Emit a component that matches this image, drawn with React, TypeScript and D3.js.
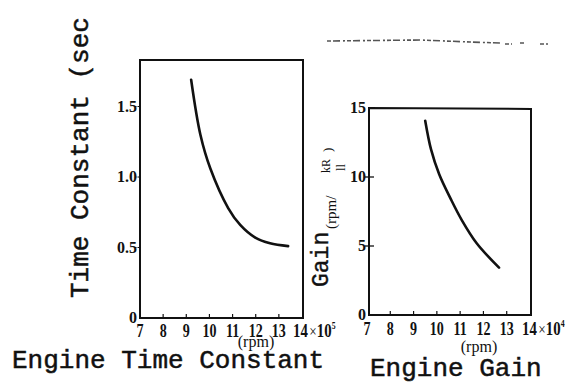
import React from 'react';
import * as d3 from 'd3';

// shared rpm axis ticks
const rpmTicks = [7, 8, 9, 10, 11, 12, 13, 14];

// Engine time constant (sec) vs rpm (x10^5)
const tcRpm = [9.21, 9.61, 10.04, 10.81, 11.33, 11.98, 12.62, 13.4];
const tcSec = [1.69, 1.3, 1.06, 0.78, 0.66, 0.57, 0.53, 0.51];
const tcTicks = [0, 0.5, 1.0, 1.5];
const tcTickLabels = ['0', '0.5', '1.0', '1.5'];

// Engine gain vs rpm (x10^4)
const gainRpm = [9.5, 9.75, 10.1, 10.6, 11.07, 11.71, 12.67];
const gainVal = [14.08, 12.0, 10.2, 8.4, 6.88, 5.2, 3.43];
const gainTicks = [0, 5, 10, 15];

const ink = '#111';
const mono = '"Liberation Mono", "DejaVu Sans Mono", monospace';
const serif = '"Liberation Serif", "DejaVu Serif", serif';

const App = () => {
    // left panel scales
    const xL = d3.scaleLinear().domain([7, 14]).range([140, 302]);
    const yL = d3.scaleLinear().domain([0, 1.83]).range([318, 60]);
    // right panel scales
    const xR = d3.scaleLinear().domain([7, 14]).range([367, 530]);
    const yR = d3.scaleLinear().domain([0, 15]).range([315, 108]);

    const tcLine = d3.line<number>()
        .x((_, i) => xL(tcRpm[i]))
        .y(d => yL(d))
        .curve(d3.curveCatmullRom.alpha(0.5));
    const gainLine = d3.line<number>()
        .x((_, i) => xR(gainRpm[i]))
        .y(d => yR(d))
        .curve(d3.curveCatmullRom.alpha(0.5));

    const tickText = (x: number, y: number, label: string, key: string) => (
        <text key={key} transform={`translate(${x},${y}) scale(0.74,1)`} textAnchor="middle"
            fontFamily={serif} fontWeight="bold" fontSize={19} fill={ink}>{label}</text>
    );

    return (
        <svg width={575} height={385} style={{ position: 'absolute', left: 0, top: 0, background: '#fff' }}>
            {/* scan noise strip at the top */}
            <path d="M327,41 L420,40 L470,42 L500,43 M505,44 L512,44 M520,43 L526,43 M540,44 L548,44"
                stroke="#555" strokeWidth={1.6} strokeDasharray="4,2,7,3,2,2" fill="none" />

            {/* ---------- left panel: time constant ---------- */}
            <path d={`M${xL(14) + 1},${yL(0)} L${xL(14) + 1},${yL.range()[1]} L${xL(7)},${yL.range()[1]} L${xL(7)},${yL(0)} Z`}
                fill="none" stroke={ink} strokeWidth={2} />
            {rpmTicks.slice(1, -1).map(t => (
                <line key={'lt' + t} x1={xL(t)} x2={xL(t)} y1={yL(0)} y2={yL(0) - 4} stroke={ink} strokeWidth={1.2} />
            ))}
            {tcTicks.slice(1).map(t => (
                <line key={'ly' + t} x1={xL(7) - 5} x2={xL(7)} y1={yL(t)} y2={yL(t)} stroke={ink} strokeWidth={1} strokeDasharray="1.5,1" />
            ))}
            {rpmTicks.slice(0, -1).map(t => tickText(xL(t), 337, String(t), 'lx' + t))}
            <text x={xL(14) - 9} y={337} fontFamily={serif} fontWeight="bold" fontSize={19} fill={ink}
                transform={`translate(${(xL(14) - 9) * 0.22},0) scale(0.78,1)`}>
                14<tspan fontWeight="normal" fontSize={17} dx={2}>×</tspan>10<tspan fontSize={10} dy={-8}>5</tspan>
            </text>
            {tcTicks.map((t, i) => (
                <text key={'lyl' + t} x={137} y={yL(t) + 5} textAnchor="end" fontFamily={serif}
                    fontWeight="bold" fontSize={16} fill={ink}>{tcTickLabels[i]}</text>
            ))}
            <text x={256} y={347} textAnchor="middle" fontFamily={serif} fontSize={16} fill={ink}>(rpm)</text>
            <path d={tcLine(tcSec) ?? ''} fill="none" stroke={ink} strokeWidth={2.6} strokeLinecap="round" />
            <text transform="translate(88,298) rotate(-90)" fontFamily={mono} fontSize={26} fill={ink}
                stroke={ink} strokeWidth={0.5}>Time Constant (sec</text>
            <text x={12} y={368} fontFamily={mono} fontSize={26} fill={ink} stroke={ink} strokeWidth={0.5}>Engine Time Constant</text>

            {/* ---------- right panel: gain ---------- */}
            <path d={`M${xR(14) + 1},${yR(0)} L${xR(14) + 1},${yR(15) + 1} L${xR(7) + 2},${yR(15)} L${xR(7) + 2},${yR(0)} Z`}
                fill="none" stroke={ink} strokeWidth={2} />
            {rpmTicks.slice(1, -1).map(t => (
                <line key={'rt' + t} x1={xR(t)} x2={xR(t)} y1={yR(0)} y2={yR(0) - 4} stroke={ink} strokeWidth={1.2} />
            ))}
            {gainTicks.slice(1, -1).map(t => (
                <line key={'ry' + t} x1={xR(7) - 2} x2={xR(7) + 7} y1={yR(t)} y2={yR(t)} stroke={ink} strokeWidth={1.3} />
            ))}
            {rpmTicks.slice(0, -1).map(t => tickText(xR(t), 335, String(t), 'rx' + t))}
            <text x={xR(14) - 8} y={335} fontFamily={serif} fontWeight="bold" fontSize={19} fill={ink}
                transform={`translate(${(xR(14) - 8) * 0.22},0) scale(0.78,1)`}>
                14<tspan fontWeight="normal" fontSize={17} dx={2}>×</tspan>10<tspan fontSize={10} dy={-8}>4</tspan>
            </text>
            {gainTicks.map(t => (
                <text key={'ryl' + t} x={366} y={yR(t) + 5} textAnchor="end" fontFamily={serif}
                    fontWeight="bold" fontSize={16} fill={ink}>{t}</text>
            ))}
            <text x={479} y={352} textAnchor="middle" fontFamily={serif} fontSize={16} fill={ink}>(rpm)</text>
            <path d={gainLine(gainVal) ?? ''} fill="none" stroke={ink} strokeWidth={2.6} strokeLinecap="round" />
            <g transform="translate(328,287) rotate(-90)" fill={ink}>
                <text x={0} y={0} fontFamily={mono} fontSize={23} stroke={ink} strokeWidth={0.4}>Gain</text>
                <text x={58} y={8} fontFamily={serif} fontSize={15}>(rpm/</text>
                <text x={114} y={2} fontFamily={serif} fontSize={12}>kR</text>
                <text x={116} y={17} fontFamily={serif} fontSize={13}>ll</text>
                <text x={135} y={4} fontFamily={serif} fontSize={13}>)</text>
            </g>
            <text x={370} y={376} fontFamily={mono} fontSize={26} fill={ink} stroke={ink} strokeWidth={0.5}>Engine Gain</text>
        </svg>
    );
};

export default App;
